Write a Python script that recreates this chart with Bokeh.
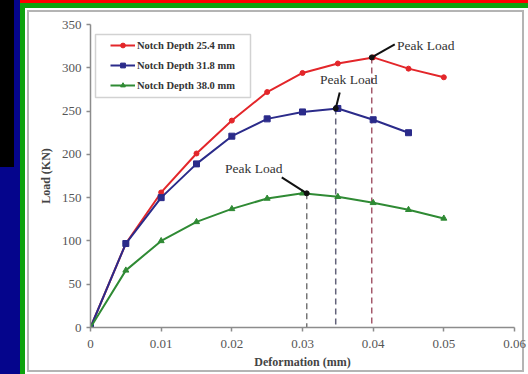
from bokeh.plotting import figure
from bokeh.models import Range1d, FixedTicker, BoxAnnotation, Legend, LegendItem
from bokeh.core.properties import value
from bokeh.embed import file_html
from bokeh.resources import INLINE

# ---- data ----
deformation_a = [0, 0.005, 0.01, 0.015, 0.02, 0.025, 0.03, 0.035, 0.04, 0.045, 0.05]
load_25_4 = [0, 97, 156, 201, 239, 272, 294, 305, 312, 299, 289]
deformation_b = [0, 0.005, 0.01, 0.015, 0.02, 0.025, 0.03, 0.035, 0.04, 0.045]
load_31_8 = [0, 97, 150, 189, 221, 241, 249, 253, 240, 225]
deformation_c = [0, 0.005, 0.01, 0.015, 0.02, 0.025, 0.03, 0.035, 0.04, 0.045, 0.05]
load_38_0 = [0, 66, 100, 122, 137, 149, 155, 151, 144, 136, 126]

series_names = ["Notch Depth 25.4 mm", "Notch Depth 31.8 mm", "Notch Depth 38.0 mm"]
peak_deformation = [0.0398, 0.0347, 0.0306]
peak_load = [312, 253, 155]
peak_text = "Peak Load"

x_ticks = [0, 0.01, 0.02, 0.03, 0.04, 0.05, 0.06]
x_tick_labels = ["0", "0.01", "0.02", "0.03", "0.04", "0.05", "0.06"]
y_ticks = [0, 50, 100, 150, 200, 250, 300, 350]
y_tick_labels = ["0", "50", "100", "150", "200", "250", "300", "350"]
x_title = "Deformation (mm)"
y_title = "Load (KN)"

# ---- styling ----
SERIF = "Liberation Serif"
colors = ["#e3262a", "#2b2b8a", "#2f8a34"]
dash_colors = ["#a45a6c", "#62627a", "#767676"]
PX_X = 0.06 / 424.0   # data units per pixel
PX_Y = 350 / 303.0
# offsets (in pixels) of label centre and arrow start relative to each peak
label_off = [(54, 12), (13, 29), (-53, 25)]
arrow_off = [(23, 13), (4, 16), (-25, 16)]

p = figure(width=528, height=374, x_range=Range1d(0, 0.06), y_range=Range1d(0, 350),
           output_backend="svg", toolbar_location=None,
           min_border_left=90, min_border_right=14, min_border_top=24, min_border_bottom=47)
p.title.visible = False
p.outline_line_color = None
p.grid.visible = False
p.background_fill_color = "white"
p.border_fill_alpha = 0

# slide decorations behind the transparent border area (CSS layers, top first)
layers = [
    ("#000000", "0px 0px", "14px 167px"),
    ("#ff0000", "20px 0px", "508px 3px"),
    ("#0ea30e", "20px 3px", "508px 5px"),
    ("#0ea30e", "20px 3px", "5px 371px"),
    ("#05058c", "0px 0px", "20px 374px"),
    ("#ffffff", "29px 12px", "493px 358px"),
    ("#b4b4b4", "27px 10px", "497px 362px"),
]
p.styles = {
    "background-color": "#ffffff",
    "background-image": ", ".join(f"linear-gradient({c}, {c})" for c, _, _ in layers),
    "background-position": ", ".join(pos for _, pos, _ in layers),
    "background-size": ", ".join(sz for _, _, sz in layers),
    "background-repeat": "no-repeat",
}

# legend frame (inside the plot frame, screen units from frame bottom-left)
p.add_layout(BoxAnnotation(left=5, right=160, bottom=230, top=293,
                           left_units="screen", right_units="screen",
                           top_units="screen", bottom_units="screen",
                           fill_color="white", fill_alpha=1,
                           line_color="#6a6a6a", line_width=1.5))

# axes styling
for ax in (p.xaxis, p.yaxis):
    ax.axis_line_color = "#8c8c8c"
    ax.axis_line_width = 1.5
    ax.major_tick_line_color = "#8c8c8c"
    ax.major_tick_line_width = 1.5
    ax.major_tick_in = 0
    ax.major_tick_out = 4
    ax.minor_tick_line_color = None
    ax.major_label_text_font = SERIF
    ax.major_label_text_font_size = "13px"
    ax.major_label_text_color = "#555555"
    ax.axis_label_text_font = SERIF
    ax.axis_label_text_font_size = "12px"
    ax.axis_label_text_font_style = "bold"
    ax.axis_label_text_color = "#444444"

p.xaxis.ticker = FixedTicker(ticks=x_ticks)
p.xaxis.major_label_overrides = {t: l for t, l in zip(x_ticks, x_tick_labels)}
p.yaxis.ticker = FixedTicker(ticks=y_ticks)
p.yaxis.major_label_overrides = {t: l for t, l in zip(y_ticks, y_tick_labels)}
p.xaxis.major_label_standoff = 8
p.yaxis.major_label_standoff = 5
p.xaxis.axis_label = x_title
p.yaxis.axis_label = y_title
p.xaxis.axis_label_standoff = 4
p.yaxis.axis_label_standoff = 6

# dashed peak lines
for px, py, c in zip(peak_deformation, peak_load, dash_colors):
    p.segment(x0=[px], y0=[py], x1=[px], y1=[0], line_color=c, line_width=1.5, line_dash="6 4")

# series
xs = [deformation_a, deformation_b, deformation_c]
ys = [load_25_4, load_31_8, load_38_0]
markers = ["circle", "square", "triangle"]
sizes = [5, 6, 6]
items = []
for x, y, c, m, s, name in zip(xs, ys, colors, markers, sizes, series_names):
    rl = p.line(x, y, line_color=c, line_width=2)
    rs = p.scatter(x, y, marker=m, size=s, fill_color=c, line_color=c)
    items.append(LegendItem(label=name, renderers=[rl, rs]))

# peak annotations
for px, py, lo, ao in zip(peak_deformation, peak_load, label_off, arrow_off):
    p.segment(x0=[px + ao[0] * PX_X], y0=[py + ao[1] * PX_Y], x1=[px], y1=[py],
              line_color="#111111", line_width=2)
    p.scatter([px], [py], size=5, fill_color="#111111", line_color="#111111")
    p.text(x=[px + lo[0] * PX_X], y=[py + lo[1] * PX_Y], text=[peak_text],
           text_font=value(SERIF), text_font_size="13.5px", text_color="#333333",
           text_align="center", text_baseline="middle")

legend = Legend(items=items, location=(20, 236))
legend.padding = 0
legend.margin = 0
legend.border_line_alpha = 0
legend.background_fill_alpha = 0
legend.glyph_width = 25
legend.glyph_height = 12
legend.label_height = 12
legend.spacing = 8
legend.label_standoff = 2
legend.label_text_font = SERIF
legend.label_text_font_size = "10.5px"
legend.label_text_font_style = "bold"
legend.label_text_color = "#333333"
p.add_layout(legend)

open("out.html", "w").write(file_html(p, INLINE))
